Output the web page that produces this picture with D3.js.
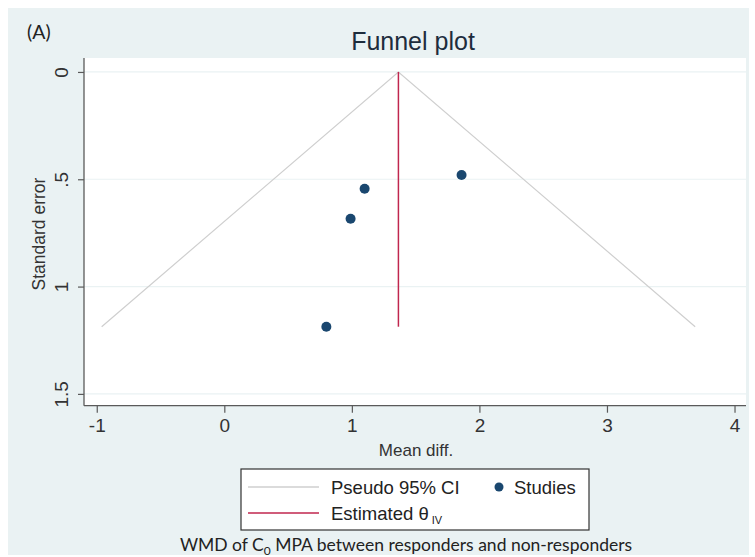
<!DOCTYPE html>
<html>
<head>
<meta charset="utf-8">
<script src="https://cdn.jsdelivr.net/npm/d3@7/dist/d3.min.js"></script>
<style>
  html, body { margin: 0; padding: 0; background: #ffffff; }
  svg { display: block; }
</style>
</head>
<body>
<svg id="chart" width="755" height="557"></svg>
<script>
// Study estimates (mean difference) and their standard errors
const studyEffects = [1.86, 1.10, 0.99, 0.80];
const studySE      = [0.48, 0.544, 0.684, 1.187];
// Pooled inverse-variance estimate
const pooledTheta  = [1.365];
// Axis ticks
const xTicks = [-1, 0, 1, 2, 3, 4];
const yTicks = [0, 0.5, 1, 1.5];
const yTickLabels = ["0", ".5", "1", "1.5"];

const svg = d3.select("#chart");
const sans = "'Liberation Sans', Arial, sans-serif";
const capFont = "Lato, 'Open Sans', sans-serif";

// Outer graph region
svg.append("rect").attr("x", 8).attr("y", 8).attr("width", 741).attr("height", 547)
  .attr("fill", "#eaf2f3");

const plot = { left: 84, right: 746, top: 58, bottom: 405.7 };

const x = d3.scaleLinear().domain([-1.1, 4.09]).range([plot.left, plot.right]);
const y = d3.scaleLinear().domain([-0.065, 1.555]).range([plot.top, plot.bottom]);

// Plot region
svg.append("rect")
  .attr("x", plot.left).attr("y", plot.top)
  .attr("width", plot.right - plot.left).attr("height", plot.bottom - plot.top)
  .attr("fill", "#ffffff");

// Horizontal grid lines
svg.append("g").selectAll("line").data(yTicks).join("line")
  .attr("x1", plot.left).attr("x2", plot.right)
  .attr("y1", d => y(d)).attr("y2", d => y(d))
  .attr("stroke", "#eaf2f3").attr("stroke-width", 1.2);

// Pseudo 95% confidence limits
const seMax = d3.max(studySE);
const theta = pooledTheta[0];
const funnel = [
  [theta - 1.96 * seMax, seMax],
  [theta, 0],
  [theta + 1.96 * seMax, seMax]
];
svg.append("path")
  .attr("d", d3.line().x(d => x(d[0])).y(d => y(d[1]))(funnel))
  .attr("fill", "none").attr("stroke", "#cfcfcf").attr("stroke-width", 1.2);

// Estimated theta line
svg.append("line")
  .attr("x1", x(theta)).attr("x2", x(theta))
  .attr("y1", y(0)).attr("y2", y(seMax))
  .attr("stroke", "#c0264e").attr("stroke-width", 1.5);

// Studies
svg.append("g").selectAll("circle").data(studyEffects).join("circle")
  .attr("cx", d => x(d)).attr("cy", (d, i) => y(studySE[i]))
  .attr("r", 5).attr("fill", "#1a476f");

// Axes
const axisColor = "#5a5a5a";
const yAxis = d3.axisLeft(y).tickValues(yTicks).tickSize(6)
  .tickFormat((d, i) => yTickLabels[i]);
const gy = svg.append("g").attr("transform", `translate(${plot.left},0)`).call(yAxis);
gy.select(".domain").attr("d", `M0,${plot.top}V${plot.bottom}`).attr("stroke", axisColor).attr("stroke-width", 1.3);
gy.selectAll(".tick line").attr("stroke", axisColor).attr("stroke-width", 1.2);
gy.selectAll(".tick text")
  .attr("x", 0).attr("dy", 0)
  .attr("transform", "translate(-16,0) rotate(-90)")
  .attr("text-anchor", "middle")
  .attr("font-family", sans).attr("font-size", 19).attr("fill", "#333");

const xAxis = d3.axisBottom(x).tickValues(xTicks).tickSize(7).tickFormat(d3.format("d"));
const gx = svg.append("g").attr("transform", `translate(0,${plot.bottom})`).call(xAxis);
gx.select(".domain").attr("d", `M${plot.left},0H${plot.right}`).attr("stroke", axisColor).attr("stroke-width", 1.3);
gx.selectAll(".tick line").attr("stroke", axisColor).attr("stroke-width", 1.2);
gx.selectAll(".tick text")
  .attr("y", 12).attr("dy", "0.75em")
  .attr("font-family", sans).attr("font-size", 19).attr("fill", "#333")
  .text(d => d < 0 ? "-" + Math.abs(d) : d);

// Axis titles
svg.append("text").attr("x", 416).attr("y", 456).attr("text-anchor", "middle")
  .attr("font-family", sans).attr("font-size", 17).attr("fill", "#333")
  .text("Mean diff.");
svg.append("text").attr("transform", "translate(45,234) rotate(-90)")
  .attr("text-anchor", "middle")
  .attr("font-family", sans).attr("font-size", 17.5).attr("fill", "#333")
  .text("Standard error");

// Title and panel label
svg.append("text").attr("x", 413).attr("y", 50).attr("text-anchor", "middle")
  .attr("font-family", sans).attr("font-size", 25).attr("fill", "#1e2d3d")
  .text("Funnel plot");
svg.append("text").attr("x", 27).attr("y", 39)
  .attr("font-family", capFont).attr("font-size", 19.5).attr("fill", "#222")
  .text("(A)");

// Legend
const lg = svg.append("g");
lg.append("rect").attr("x", 241).attr("y", 469).attr("width", 348).attr("height", 61)
  .attr("fill", "#ffffff").attr("stroke", "#333").attr("stroke-width", 1.2);
lg.append("line").attr("x1", 248).attr("x2", 319).attr("y1", 487).attr("y2", 487)
  .attr("stroke", "#cfcfcf").attr("stroke-width", 1.3);
lg.append("line").attr("x1", 248).attr("x2", 319).attr("y1", 513).attr("y2", 513)
  .attr("stroke", "#c0264e").attr("stroke-width", 1.5);
lg.append("text").attr("x", 331).attr("y", 494)
  .attr("font-family", sans).attr("font-size", 18.5).attr("fill", "#222")
  .text("Pseudo 95% CI");
const est = lg.append("text").attr("x", 331).attr("y", 520)
  .attr("font-family", sans).attr("font-size", 18.5).attr("fill", "#222");
est.append("tspan").text("Estimated θ");
est.append("tspan").attr("dx", 3).attr("dy", 4).attr("font-size", 11).text("IV");
lg.append("circle").attr("cx", 499).attr("cy", 487).attr("r", 4.5).attr("fill", "#1a476f");
lg.append("text").attr("x", 514).attr("y", 494)
  .attr("font-family", sans).attr("font-size", 18.5).attr("fill", "#222")
  .text("Studies");

// Caption
const cap = svg.append("text").attr("x", 406).attr("y", 551).attr("text-anchor", "middle")
  .attr("font-family", capFont).attr("font-size", 17.5).attr("fill", "#222");
cap.append("tspan").text("WMD of C");
cap.append("tspan").attr("dy", 4).attr("font-size", 12).text("0");
cap.append("tspan").attr("dy", -4).text(" MPA between responders and non-responders");
</script>
</body>
</html>
